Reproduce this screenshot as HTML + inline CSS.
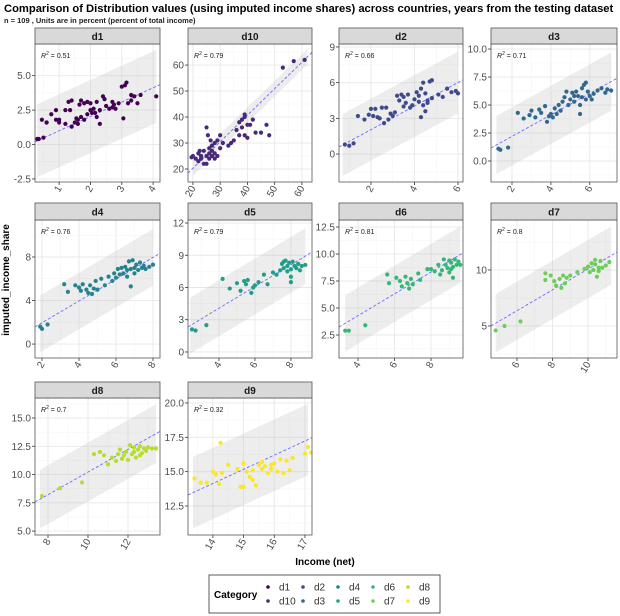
<!DOCTYPE html>
<html><head><meta charset="utf-8"><style>
html,body{margin:0;padding:0;background:#fff;width:620px;height:616px;overflow:hidden}
svg{display:block;font-family:"Liberation Sans",Arial,sans-serif}
</style></head><body>
<svg id="chart" width="620" height="616" viewBox="0 0 620 616">
<text x="4" y="12" font-size="11.2" font-weight="bold" fill="#000">Comparison of Distribution values (using imputed income shares) across countries, years from the testing dataset</text>
<text x="4" y="23" font-size="7.5" font-weight="bold" fill="#222">n = 109 , Units are in percent (percent of total income)</text>
<text transform="translate(9,280) rotate(-90)" text-anchor="middle" font-size="10" font-weight="bold">imputed_income_share</text>
<text x="325" y="565" text-anchor="middle" font-size="10" font-weight="bold">Income (net)</text>
<g id="legend">
<rect x="209" y="575" width="231" height="38" fill="#fff" stroke="#333" stroke-width="0.8"/>
<text x="214" y="598" font-size="10" font-weight="bold">Category</text>
</g>
<g id="panels"></g>
</svg>
<script>
const categories = ["d1","d10","d2","d3","d4","d5","d6","d7","d8","d9"];
const colors = ["#440154","#482878","#3E4A89","#31688E","#26828E","#1F9E89","#35B779","#6DCD59","#B4DE2C","#FDE725"];
const r2Values = ["0.51","0.79","0.66","0.71","0.76","0.79","0.81","0.8","0.7","0.32"];
const slopes = [1.04,1.02,0.99,0.96,1.0,1.01,1.01,0.93,1.0,1.03];
const intercepts = [-0.04,-0.1,0.07,0.28,-0.04,0.03,0.25,0.78,0.22,-0.28];
const bandHalf = [2.65,3,2.6,2.6,2.6,2.6,2.6,2.6,2.6,2.6];
const bandRange = [[0.3,4.1],[20,62],[0.7,6],[1.2,7.1],[1.9,8],[2.4,8.8],[3.3,9.6],[4.8,11.3],[7.6,13.4],[13.35,17.1]];
const xDomains = [[0.23,4.22],[18.2,63.7],[0.53,6.23],[0.92,7.4],[1.62,8.38],[2.28,9.17],[2.96,9.75],[4.54,11.63],[7.35,13.6],[13.19,17.23]];
const yDomains = [[-2.72,7.3],[15,68.1],[-2.35,9.25],[-1.875,10.45],[-1.28,11.4],[-0.56,12.28],[0.37,13.15],[2.14,14.46],[4.65,16.77],[10.39,20.36]];
const xTicks = [[1,2,3,4],[20,30,40,50,60],[2,4,6],[2,4,6],[2,4,6,8],[4,6,8],[4,6,8],[6,8,10],[8,10,12],[14,15,16,17]];
const yTicks = [[-2.5,0,2.5,5],[20,30,40,50,60],[0,3,6,9],[0,2.5,5,7.5,10],[0,4,8],[0,3,6,9,12],[2.5,5,7.5,10,12.5],[5,10],[5,7.5,10,12.5,15],[12.5,15,17.5,20]];
const yTickLabels = [["-2.5","0.0","2.5","5.0"],["20","30","40","50","60"],["0","3","6","9"],["0.0","2.5","5.0","7.5","10.0"],["0","4","8"],["0","3","6","9","12"],["2.5","5.0","7.5","10.0","12.5"],["5","10"],["5.0","7.5","10.0","12.5","15.0"],["12.5","15.0","17.5","20.0"]];
const xValues = [
[0.3,0.35,0.5,0.45,0.6,0.6,0.75,0.9,0.9,1,1,1.2,1.2,1.3,1.35,1.4,1.4,1.5,1.6,1.6,1.65,1.7,1.7,1.8,1.8,1.9,1.9,2,2,2.05,2.1,2.2,2.2,2.3,2.3,2.4,2.45,2.5,2.6,2.7,2.7,2.8,2.9,3,3.05,3.1,3.15,3.2,3.3,3.3,3.4,3.5,3.6,4.1,2.75,1.55,2.15],
[19.5,20,21,22,22,23,23,24,24,25,25,25,25.5,26,26,26,27,27,27,28,28,28,29,29,30,30,31,33,34,35,36,37,37,38,38,39,39,39,40,40,41,42,43,45,47,48,53,57,61,22.5,26.5],
[0.8,1,1.2,1.4,1.7,1.9,2,2.1,2.2,2.3,2.4,2.5,2.6,2.7,2.8,2.9,3,3.1,3.2,3.3,3.4,3.5,3.5,3.6,3.7,3.8,3.9,4,4.1,4.2,4.3,4.4,4.4,4.5,4.5,4.6,4.7,4.8,4.8,4.3,5.1,5.3,5.5,5.7,5.9,6,4.6,4.2],
[1.3,1.4,1.8,2.3,2.6,2.9,3,3.2,3.4,3.5,3.7,3.8,3.9,4,4.1,4.2,4.3,4.4,4.5,4.6,4.7,4.8,4.9,5,5.1,5.2,5.3,5.4,5.5,5.6,5.7,5.8,5.8,5.9,5.5,6,6.1,6.2,6.4,6.6,6.8,6.9,7.1,5.2,5.6],
[1.9,2,2.3,3.2,3.4,3.8,4,4.1,4.2,4.4,4.5,4.6,4.7,4.8,4.9,5,5.2,5.4,5.6,5.8,6,6.1,6.2,6.3,6.4,6.5,6.6,6.7,6.8,6.8,6.9,7,7.1,7.2,7.3,7.4,7.5,7.6,7.8,8,6.6,7,5.9],
[2.5,2.7,3.3,4.2,4.6,5,5.2,5.4,5.5,5.6,5.8,5.9,6,6.2,6.5,6.7,7,7.2,7.4,7.5,7.6,7.7,7.8,7.9,8,8,8.1,8.2,8.3,8.4,8.5,8.6,8.8,7.8,8,7.6],
[3.3,3.5,4.4,5.6,5.7,6.1,6.3,6.4,6.6,6.7,6.8,6.9,7,7.3,7.4,7.8,8,8.2,8.4,8.5,8.6,8.8,8.9,9,9,9.1,9.2,9.2,9.3,9.4,9.5,9.6,8.7,9.1],
[4.8,5.3,6.2,7.6,7.6,7.9,8.1,8.2,8.4,8.5,8.6,8.7,8.8,9,9.4,9.8,10,10.1,10.2,10.3,10.4,10.5,10.6,10.7,10.8,11,11.2,10.4,10.6],
[7.7,8.6,9.7,10.3,10.6,10.8,11,11.2,11.4,11.5,11.6,11.7,11.8,11.9,12,12.1,12.2,12.3,12.4,12.5,12.6,12.7,12.8,12.9,13,13.2,13.4,12.3,12.6],
[13.4,13.6,13.8,14,14.1,14.2,14.25,14.3,14.5,14.8,14.9,15,15,15.1,15.2,15.3,15.3,15.4,15.5,15.6,15.7,15.8,15.9,16,16.1,16.2,16.3,16.4,16.5,16.6,17,17.1,17.2,15.6,15.9]
];
const yValues = [
[0.4,0.4,0.5,1.8,1.6,1.6,2.2,2.5,1.8,1.6,1.8,1.5,2.5,3.1,2.5,3.2,1.3,1.6,1.8,1.5,2.9,3.2,2,1.8,3,3.1,2.2,2.5,3,2.3,2.6,2,3.1,2.5,1.5,3.5,3.3,2.8,2.6,2.7,3.1,2.6,3,4.2,1.9,4.3,4.5,3,3.6,3.2,3.5,3,3.6,3.5,2.9,1.9,2.3],
[24.5,25,24,26,23,25,24,22,27,36,25,22,33,26,28,24,29,25,27,26,24,30,25,31,33,28,30,29,30,31,35,38,33,36,39,40,33,41,32,37,37,39,34,34,37,33,59,61.5,62,27,31],
[0.8,0.7,0.9,3.2,2.9,3.3,3.8,3.2,3.8,3.1,3,3.9,2.6,3.9,2.9,3.4,3.2,3.5,4.9,4.5,5,4,4.8,4.3,5,3.9,4.1,4.6,5.2,4.4,5.5,4.1,6,5.1,3.6,4.3,6.1,6.2,4.7,3.1,5,4.8,5.5,5.2,5.3,5.1,4.5,4.9],
[1.1,1,1.2,4.3,3.8,4.1,4.5,3.9,4.6,4.3,4.9,3.5,4,4.2,3.9,4.7,4.2,5,4.5,5.3,5.7,6.2,5,5.5,6.1,5.3,6.2,5.8,5,6.5,6.8,7,5.5,6.2,4.2,5.8,5.5,6,6.3,6.5,6.1,6.4,6.3,5.8,5.7],
[1.6,1.4,1.8,5.5,4.8,5.4,5.2,4.9,5.5,5,4.7,5.4,4.6,5.1,5.8,5,6,5.4,6.2,5.8,6.1,6.9,6.4,7,6.5,7.1,6.2,7.6,6.9,5.3,7.7,6.5,7.3,6.8,7.5,7,7.2,6.9,7.1,7.3,6.8,7,6.5],
[2.1,2,2.5,6.8,5.9,6.4,5.7,6.6,6.3,6.7,5.5,6,6.2,6.5,7.2,6.3,7.4,7.2,7.6,8.2,7.8,8.5,7.5,8.3,7,6.5,8.4,8,7.8,8.2,7.6,8,8.1,8,7.7,8.4],
[2.9,2.9,3.4,8.1,7.3,7.8,7.5,7,7.9,7.3,6.8,7.7,7.2,8.2,7.6,8.6,8.6,8.4,9,8.1,8.5,9,8.7,9.4,8.3,9.2,7.8,8.8,9.5,9,9.3,9,9.5,8.6],
[4.6,5,5.4,9.7,9.1,9.5,9,8.6,9.2,8.4,9.5,8.8,9.3,9.5,9.8,10.1,10.3,9.8,10.6,10,10.5,9.4,10.2,10.8,10.2,10.4,10.7,10.9,9.9],
[8.1,8.8,9.3,11.8,12,11.7,10.9,11.5,11.2,11.8,12.2,11.4,11.7,12,11.3,12.6,11.8,12.4,11.5,12.2,12.5,11.9,12.3,12.1,12.4,12.3,12.3,12,11.7],
[14.5,14.2,14.2,15,14.8,14.1,17.1,14.9,15.5,15.2,13.9,15.6,13.9,15,14.6,14.4,15.1,14,15.5,15.2,15.4,14.9,15.2,15.6,15,15.9,14.9,15.8,15.1,16,16.3,16.8,16.4,15.7,15.5]
];
const colX = [[35,160],[188,312],[339,463],[491,617]];
const rowY = [[28,44,182],[203,220,358],[382,398,535]];
const NS = "http://www.w3.org/2000/svg";
function mk(tag, attrs, parent){const e=document.createElementNS(NS,tag);for(const k in attrs)e.setAttribute(k,attrs[k]);parent.appendChild(e);return e;}
const root = document.getElementById("panels");
categories.forEach((cat,i)=>{
  const col=i%4,row=Math.floor(i/4);
  const L=colX[col][0],R=colX[col][1],ST=rowY[row][0],T=rowY[row][1],B=rowY[row][2];
  const xd=xDomains[i], yd=yDomains[i];
  const sx=v=>L+(v-xd[0])/(xd[1]-xd[0])*(R-L);
  const sy=v=>B-(v-yd[0])/(yd[1]-yd[0])*(B-T);
  const g=mk("g",{},root);
  
  
  mk("rect",{x:L,y:T,width:R-L,height:B-T,fill:"#fff"},g);
  const clipId="clip"+i;
  const cp=mk("clipPath",{id:clipId},g); mk("rect",{x:L,y:T,width:R-L,height:B-T},cp);
  const inner=mk("g",{"clip-path":"url(#"+clipId+")"},g);
  const xt=xTicks[i], yt=yTicks[i];
  const xs=xt[1]-xt[0], ys=yt[1]-yt[0];
  for(let v=xt[0]-xs*3;v<=xt[xt.length-1]+xs*3;v+=xs/2){const major=Math.abs(((v-xt[0])/xs)%1)<1e-6;mk("line",{x1:sx(v),x2:sx(v),y1:T,y2:B,stroke:major?"#e8e8e8":"#f3f3f3","stroke-width":major?0.9:0.5},inner);}
  for(let v=yt[0]-ys*3;v<=yt[yt.length-1]+ys*3;v+=ys/2){const major=Math.abs(((v-yt[0])/ys)%1)<1e-6;mk("line",{x1:L,x2:R,y1:sy(v),y2:sy(v),stroke:major?"#e8e8e8":"#f3f3f3","stroke-width":major?0.9:0.5},inner);}
  const a=bandRange[i][0],b=bandRange[i][1],m=slopes[i],c=intercepts[i],h=bandHalf[i];
  const band=mk("polygon",{points:[[sx(a),sy(m*a+c+h)],[sx(b),sy(m*b+c+h)],[sx(b),sy(m*b+c-h)],[sx(a),sy(m*a+c-h)]].map(p=>p.join(",")).join(" "),fill:"#bdbdbd","fill-opacity":0.28},inner);
  
  
  const ln=mk("line",{x1:sx(xd[0]),y1:sy(m*xd[0]+c),x2:sx(xd[1]),y2:sy(m*xd[1]+c),stroke:"#6b6bff","stroke-width":0.9,"stroke-dasharray":"3,2"},inner);
  
  
  xValues[i].forEach((xv,j)=>{
    const p=mk("circle",{cx:sx(xv),cy:sy(yValues[i][j]),r:2.1,fill:colors[i]},inner);
    
    
  });
  const rt=mk("text",{x:L+6,y:T+14,"font-size":7,fill:"#222"},g);
  
  
  rt.innerHTML='<tspan font-style="italic">R</tspan><tspan dy="-3" font-size="5">2</tspan><tspan dy="3"> = '+r2Values[i]+'</tspan>';
  mk("rect",{x:L,y:T,width:R-L,height:B-T,fill:"none",stroke:"#555","stroke-width":0.8},g);
  const st=mk("rect",{x:L,y:ST,width:R-L,height:T-ST,fill:"#d9d9d9",stroke:"#555","stroke-width":0.8},g);
  
  
  const stt=mk("text",{x:(L+R)/2,y:ST+(T-ST)/2+4,"text-anchor":"middle","font-size":10,"font-weight":"bold",fill:"#1a1a1a"},g);
  stt.textContent=cat;
  
  
  yt.forEach((v,k)=>{
    const y=sy(v);
    mk("line",{x1:L-3,x2:L,y1:y,y2:y,stroke:"#333","stroke-width":0.8},g);
    const t=mk("text",{x:L-4,y:y+3.5,"text-anchor":"end","font-size":10,fill:"#4d4d4d"},g);
    t.textContent=yTickLabels[i][k];
    
    
  });
  xt.forEach(v=>{
    const x=sx(v);
    mk("line",{x1:x,x2:x,y1:B,y2:B+3,stroke:"#333","stroke-width":0.8},g);
    const t=mk("text",{transform:"translate("+(x+3)+","+(B+6)+") rotate(-60)","text-anchor":"end","font-size":10,fill:"#4d4d4d"},g);
    t.textContent=String(v);
    
    
  });
});
const leg=document.getElementById("legend");
categories.forEach((cat,i)=>{
  const col=Math.floor(i/2), row=i%2;
  const x=268+col*35, y=587+row*14;
  const e=mk("g",{},leg);
  
  
  mk("circle",{cx:x,cy:y,r:1.8,fill:colors[i]},e);
  const t=mk("text",{x:x+11,y:y+3.5,"font-size":10,fill:"#333"},e);
  t.textContent=cat;
});
</script>
</body></html>
